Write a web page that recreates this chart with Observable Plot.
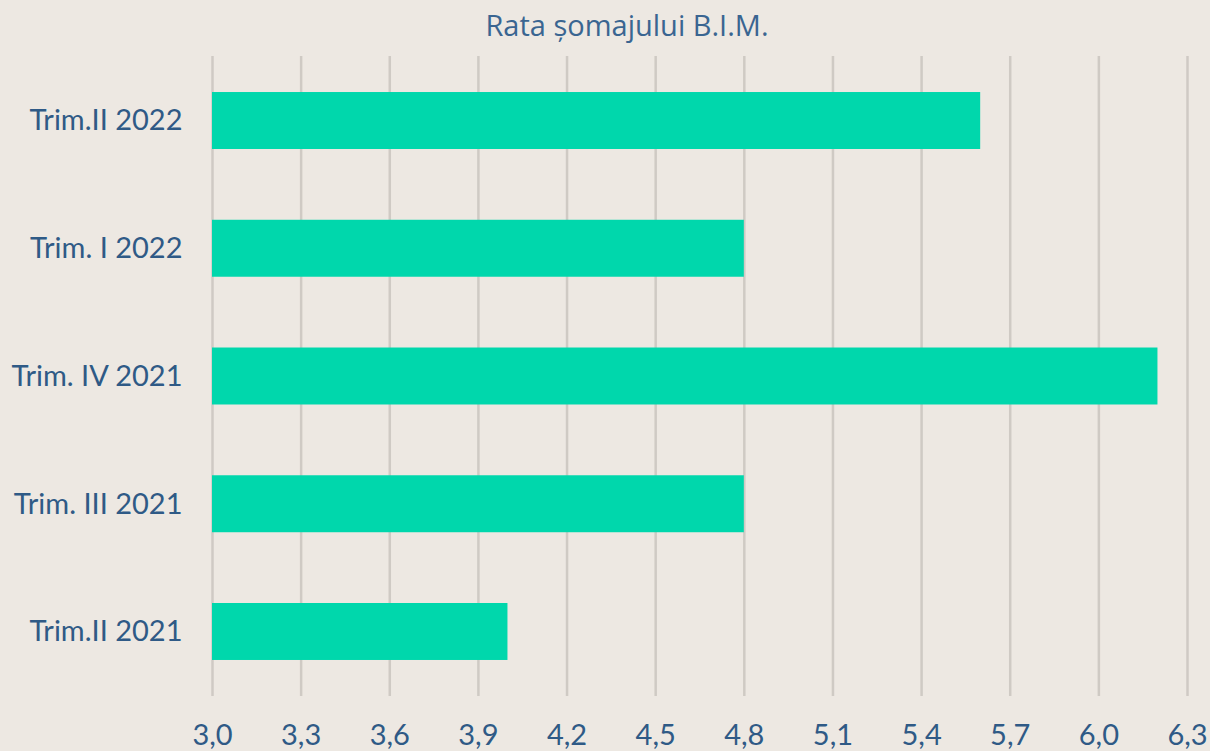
<!DOCTYPE html>
<html>
<head>
<meta charset="utf-8">
<script src="https://cdn.jsdelivr.net/npm/d3@7"></script>
<script src="https://cdn.jsdelivr.net/npm/@observablehq/plot@0.6"></script>
<style>
  html, body { margin: 0; padding: 0; background: #ede8e2; width: 1210px; height: 751px; overflow: hidden; }
  #title { height: 50px; line-height: 50px; text-align: center; font-family: "Open Sans", sans-serif; font-size: 29px; color: #3a6591; padding-left: 44px; }
  #chart svg { display: block; }
</style>
</head>
<body>
<div id="title">Rata șomajului B.I.M.</div>
<div id="chart"></div>
<script>
const categories = ["Trim.II 2022", "Trim. I 2022", "Trim. IV 2021", "Trim. III 2021", "Trim.II 2021"];
const values = [5.6, 4.8, 6.2, 4.8, 4.0];
const xTicks = [3.0, 3.3, 3.6, 3.9, 4.2, 4.5, 4.8, 5.1, 5.4, 5.7, 6.0, 6.3];

const data = categories.map((c, i) => ({label: c, value: values[i]}));
const fmt = d => d.toFixed(1).replace(".", ",");

const chart = Plot.plot({
  width: 1210,
  height: 701,
  marginTop: 6,
  marginBottom: 55,
  marginLeft: 212,
  marginRight: 23,
  style: {background: "transparent", fontFamily: "Lato, sans-serif", color: "#2f5a86"},
  x: {domain: [3.0, 6.3], ticks: xTicks, tickFormat: fmt, tickSize: 0, label: null},
  y: {domain: categories, paddingInner: 0.554, paddingOuter: 0.282, round: false, tickSize: 0, label: null},
  marks: [
    Plot.ruleX(xTicks, {stroke: "#cfcac4", strokeWidth: 2.5}),
    Plot.barX(data, {y: "label", x1: () => 3.0, x2: "value", fill: "#00d7ac"}),
    Plot.axisX({ticks: xTicks, tickFormat: fmt, tickSize: 0, tickPadding: 28, fontSize: 29, fill: "#2f5a86", label: null}),
    Plot.axisY({tickSize: 0, tickPadding: 30, fontSize: 29, fill: "#2f5a86", label: null})
  ]
});
document.getElementById("chart").appendChild(chart);
</script>
</body>
</html>
